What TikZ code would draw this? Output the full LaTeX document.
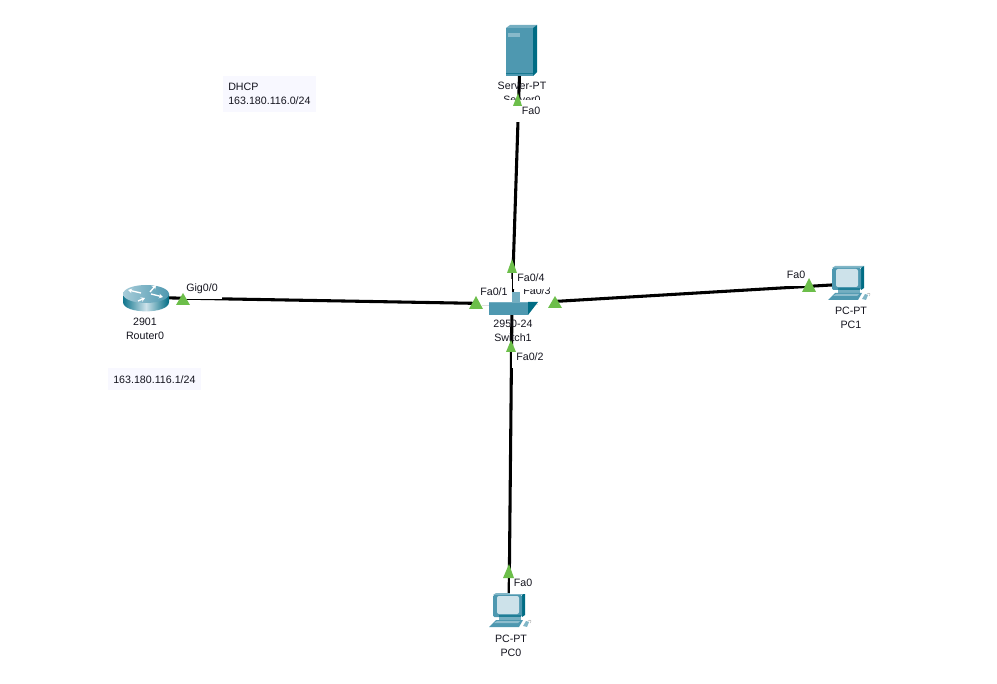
\documentclass[tikz,border=0pt]{standalone}
\usepackage{fontspec}
\setmainfont{Liberation Sans}
\usepackage{tikz}
\usetikzlibrary{arrows.meta,positioning}
\definecolor{linkgreen}{RGB}{108,190,74}
\definecolor{devblue}{RGB}{78,152,176}
\definecolor{devdark}{RGB}{0,108,132}
\definecolor{devpale}{RGB}{205,226,234}
\definecolor{notefill}{RGB}{248,248,255}
\definecolor{labelink}{RGB}{20,20,30}
\tikzset{
  pcicon/.pic={
    \fill[devblue!60!devpale] (-16,-16) -- (-13,-18) -- (16,-18) -- (13,-16) -- cycle;
    \fill[devdark] (13,-16) -- (16,-18) -- (16,4) -- (13,6) -- cycle;
    \fill[devblue,rounded corners=1pt] (-16,-16) rectangle (13,6);
    \fill[devpale,rounded corners=1.5pt] (-12,-15) rectangle (10,3);
    \fill[devdark!60!devblue] (-10,4) rectangle (12,6);
    \fill[devblue!70!devpale] (-10,6) rectangle (12,9);
    \fill[devblue] (-20,16) -- (-13,9) -- (14,9) -- (10,16) -- cycle;
    \fill[devblue!50!devpale] (-15,12) -- (-12,10) -- (11,10) -- (9,12) -- cycle;
    \fill[devblue!60!devpale] (14,15) -- (17,10) -- (20,11) -- (18,16) -- cycle;
    \draw[gray!60,line width=0.4pt] (19,10) .. controls (22,8) and (23,10) .. (21,12);
  }
}
\begin{document}
\begin{tikzpicture}[x=0.75pt,y=-0.75pt,
  dev/.style={inner sep=0pt,minimum size=6pt},
  link/.style={line width=2.3pt,black},
  devlabel/.style={align=center,inner sep=0pt,text=labelink,font=\fontsize{8}{10.5}\selectfont},
  portlabel/.style={fill=white,inner xsep=3pt,inner ysep=0pt,minimum height=16.5pt,text=labelink,font=\fontsize{8}{9}\selectfont},
  note/.style={fill=notefill,align=left,inner xsep=3.75pt,inner ysep=2pt,text=labelink,font=\fontsize{8}{10.5}\selectfont}]
\useasboundingbox (0,0) rectangle (997,684);
% anchors of the devices
\node[dev] (router) at (146,297.5) {};
\node[dev] (switch) at (512,304) {};
\node[dev] (server) at (520,60) {};
\node[dev] (pcone) at (848,284) {};
\node[dev] (pczero) at (509,611) {};
\foreach \u in {router,server,pcone,pczero} \draw[link] (\u.center)--(switch.center);
% router
\shade[left color=devdark!80!devblue,right color=devdark,middle color=devpale] (123,294) -- (123,302) .. controls (123,314.5) and (169,314.5) .. (169,302) -- (169,294) -- cycle;
\shade[left color=devblue!30!devpale,right color=devblue] (146,294) ellipse [x radius=23,y radius=9];
\foreach \xa/\ya/\xb/\yb in {141/293/128/290,138/301/145/298,150/292/156/285,151/294/163/297}
  \draw[-{Stealth[length=3pt,width=3.5pt]},white,line width=1pt] (\xa,\ya)--(\xb,\yb);
% server
\fill[devblue!70!devpale] (506,28) -- (510,25) -- (537,25) -- (533,28) -- cycle;
\fill[devdark] (533,28) -- (537,25) -- (537,72) -- (533,76) -- cycle;
\fill[devblue] (506,28) rectangle (533,76);
\fill[devblue!55!devpale] (508,33) rectangle (520,37);
\draw[devdark!70!devblue,line width=0.4pt] (506,73) -- (533,73);
% computers
\pic at (pcone.center) {pcicon};
\pic at (pczero.center) {pcicon};
% device names
\node[devlabel] (routername) at (145,329) {2901\\Router0};
\node[devlabel] (switchname) at (513,331) {2950-24\\Switch1};
\node[devlabel] (servername) at (522,92.5) {Server-PT\\Server0};
\node[devlabel] (pconename) at (851,317.5) {PC-PT\\PC1};
\node[devlabel] (pczeroname) at (511,646) {PC-PT\\PC0};
% port names
\node[portlabel] (gig) at (202,288.5) {Gig0/0};
\node[portlabel,minimum height=20pt] (fa1) at (494,292) {Fa0/1};
\node[portlabel,minimum height=20pt] (fa3) at (537,291) {Fa0/3};
\node[portlabel] (fa4) at (531,278) {Fa0/4};
\node[portlabel] (fa2) at (530,357) {Fa0/2};
\node[portlabel] (faserver) at (522,111) {\hspace*{13.5pt}Fa0};
\node[portlabel] (fapczero) at (523,583) {Fa0};
\node[portlabel] (fapcone) at (796,275) {Fa0};
% switch
\fill[devblue!70!devpale] (512,292) rectangle (520,303);
\fill[devblue] (489,302) rectangle (528,315);
\fill[devdark] (528,302) -- (538,302) -- (528,315) -- cycle;
\fill[devblue!70!devpale] (489,302) rectangle (528,303);
% link lights
\foreach \xl/\xr/\yb/\xa/\ya in {176/190/305/183/293,469/483/309/476/296,548/562/308/555/296,507/517/273/512/259,506/516/352/511/340,513/522/106/518/93,503/514/578/509/564,802/816/292/809/278}
  \fill[linkgreen] (\xl,\yb) -- (\xa,\ya) -- (\xr,\yb) -- cycle;
% notes
\node[note,anchor=north west,minimum width=69pt,minimum height=27pt] (dhcp) at (223,76) {DHCP\\163.180.116.0/24};
\node[note,anchor=north west,minimum width=68.25pt,minimum height=16.5pt] (gateway) at (108,368) {163.180.116.1/24};
\end{tikzpicture}
\end{document}
